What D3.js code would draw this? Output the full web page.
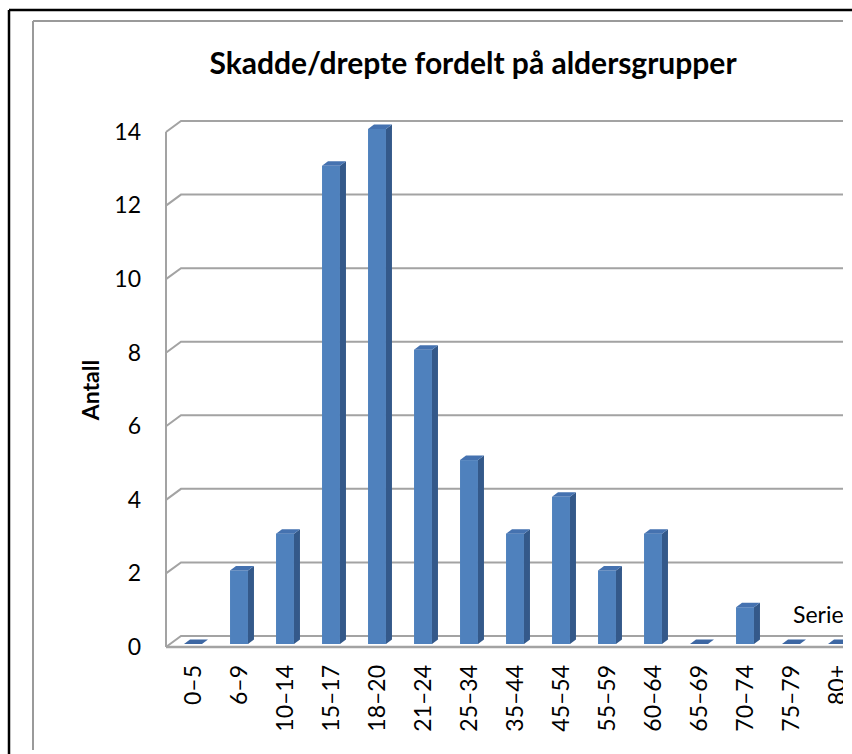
<!DOCTYPE html>
<html><head><meta charset="utf-8">
<script src="https://cdn.jsdelivr.net/npm/d3@7"></script>
<style>body{margin:0;background:#fff;overflow:hidden}</style>
</head><body>
<svg id="c" width="852" height="754"></svg>
<script>
const categories = ["0–5","6–9","10–14","15–17","18–20","21–24","25–34","35–44","45–54","55–59","60–64","65–69","70–74","75–79","80+"];
const values = [0,2,3,13,14,8,5,3,4,2,3,0,1,0,0];
const yTicks = [0,2,4,6,8,10,12,14];
const titleText = "Skadde/drepte fordelt på aldersgrupper";
const yTitleText = "Antall";
const seriesName = "Serie1";

const svg = d3.select("#c");
const FONT = "Lato, 'Open Sans', sans-serif";
const GRID = "#a3a3a3";

// outer frames
svg.append("line").attr("x1",9).attr("y1",10).attr("x2",852).attr("y2",10).attr("stroke","#000").attr("stroke-width",2.5);
svg.append("line").attr("x1",9).attr("y1",10).attr("x2",9).attr("y2",754).attr("stroke","#000").attr("stroke-width",2.5);
svg.append("line").attr("x1",33).attr("y1",21).attr("x2",843).attr("y2",21).attr("stroke","#9a9a9a").attr("stroke-width",2);
svg.append("line").attr("x1",33).attr("y1",21).attr("x2",33).attr("y2",750).attr("stroke","#9a9a9a").attr("stroke-width",2);

svg.append("defs").append("clipPath").attr("id","clip")
  .append("rect").attr("x",0).attr("y",0).attr("width",843).attr("height",754);

const x = d3.scaleBand().domain(categories).range([166, 856]).paddingInner(0.61).paddingOuter(0.305);
const y = d3.scaleLinear().domain([0, 14]).range([647, 132]);
const WX = 15, WY = -11;   // wall depth
const BX = 4, BY = -3;     // bar front offset into depth
const DX = 6, DY = -4.5;   // bar depth

const g = svg.append("g").attr("clip-path","url(#clip)");

// gridlines + left wall
yTicks.forEach(t => {
  g.append("path")
    .attr("d", `M166,${y(t)}L${166+WX},${y(t)+WY}L845,${y(t)+WY}`)
    .attr("fill","none").attr("stroke",GRID).attr("stroke-width",2);
});
g.append("line").attr("x1",166).attr("y1",y(0)).attr("x2",166).attr("y2",y(14))
  .attr("stroke",GRID).attr("stroke-width",2);
g.append("line").attr("x1",166).attr("y1",y(0)).attr("x2",845).attr("y2",y(0))
  .attr("stroke",GRID).attr("stroke-width",2.5);

// bars
const bw = x.bandwidth();
categories.forEach((c, i) => {
  const v = values[i];
  const x0 = x(c) + BX, yb = y(0) + BY, yt = y(v) + BY;
  if (v > 0) {
    g.append("rect").attr("x",x0).attr("y",yt).attr("width",bw).attr("height",yb-yt).attr("fill","#4f81bd");
    g.append("path").attr("d",`M${x0+bw},${yt}L${x0+bw+DX},${yt+DY}L${x0+bw+DX},${yb+DY}L${x0+bw},${yb}Z`).attr("fill","#34598a");
  }
  g.append("path").attr("d",`M${x0},${yt}L${x0+DX},${yt+DY}L${x0+bw+DX},${yt+DY}L${x0+bw},${yt}Z`).attr("fill", v > 0 ? "#4572b0" : "#3d67a3");
});

// y axis labels
const yAxis = d3.axisLeft(y).tickValues(yTicks).tickSize(0).tickPadding(25);
const ya = svg.append("g").attr("transform","translate(166,0)").call(yAxis);
ya.select(".domain").remove();
ya.selectAll("text").attr("font-family",FONT).attr("font-size",23).attr("fill","#000");

// x labels
g.selectAll("text.xl").data(categories).enter().append("text")
  .attr("class","xl")
  .attr("transform", d => `translate(${x(d)+bw/2+BX-1},665) rotate(-90)`)
  .attr("text-anchor","end").attr("dominant-baseline","central")
  .attr("font-family",FONT).attr("font-size",23).attr("fill","#000")
  .text(d => d);

// legend (clipped)
g.append("text").attr("x",793).attr("y",623).attr("font-family",FONT).attr("font-size",23).attr("fill","#000").text(seriesName);

// title
svg.append("text").attr("x",473).attr("y",62).attr("text-anchor","middle").attr("dominant-baseline","central")
  .attr("font-family",FONT).attr("font-weight","bold").attr("font-size",30).attr("fill","#000").text(titleText);

// y title
svg.append("text").attr("transform","translate(90,390) rotate(-90)").attr("text-anchor","middle").attr("dominant-baseline","central")
  .attr("font-family",FONT).attr("font-weight","bold").attr("font-size",23).attr("fill","#000").text(yTitleText);
</script>
</body></html>
